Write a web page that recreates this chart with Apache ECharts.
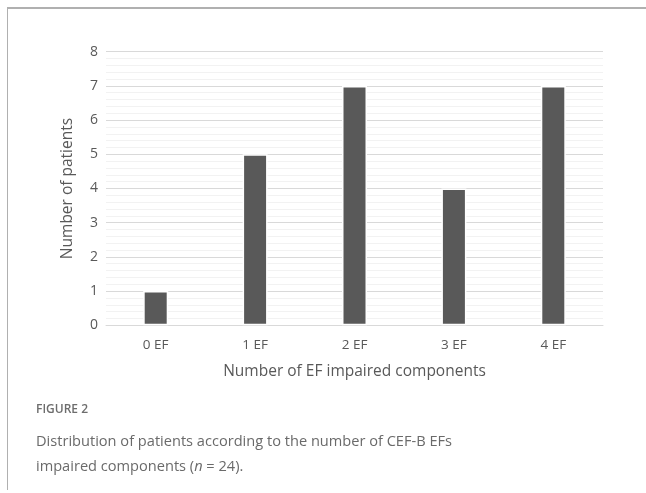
<!DOCTYPE html>
<html>
<head>
<meta charset="utf-8">
<script src="https://cdn.jsdelivr.net/npm/echarts@6/dist/echarts.min.js"></script>
<style>html,body{margin:0;padding:0;background:#fff;}#c{width:646px;height:493px;}</style>
</head>
<body>
<div id="c"></div>
<script>
const categories = ['0 EF', '1 EF', '2 EF', '3 EF', '4 EF'];
const patients = [1, 5, 7, 4, 7];
const yTicks = { min: 0, max: 8, interval: 1 };

const chart = echarts.init(document.getElementById('c'), null, { renderer: 'canvas' });
const font = '"Open Sans", "Noto Sans", sans-serif';
chart.setOption({
  animation: false,
  backgroundColor: '#ffffff',
  grid: { left: 106, right: 43, top: 51.7, bottom: 167.7, containLabel: false },
  xAxis: {
    type: 'category',
    data: categories,
    axisLine: { show: true, lineStyle: { color: '#d9d9d9', width: 1 } },
    axisTick: { show: false },
    axisLabel: { color: '#595959', fontSize: 13.5, fontFamily: font, margin: 13 },
    name: 'Number of EF impaired components',
    nameLocation: 'middle',
    nameGap: 38,
    nameTextStyle: { color: '#595959', fontSize: 15.5, fontFamily: font }
  },
  yAxis: {
    type: 'value',
    min: yTicks.min, max: yTicks.max, interval: yTicks.interval,
    axisLine: { show: false },
    axisTick: { show: false },
    axisLabel: { color: '#595959', fontSize: 14, fontFamily: font, margin: 8 },
    splitLine: { show: true, lineStyle: { color: '#d9d9d9', width: 1 } },
    minorTick: { show: false, splitNumber: 5 },
    minorSplitLine: { show: true, lineStyle: { color: '#f2f2f2', width: 1 } },
    name: 'Number of patients',
    nameLocation: 'middle',
    nameGap: 30,
    nameTextStyle: { color: '#595959', fontSize: 15.5, fontFamily: font }
  },
  series: [{
    type: 'bar',
    data: patients,
    barWidth: 25,
    itemStyle: { color: '#595959', borderColor: '#ffffff', borderWidth: 1.5 }
  }],
  graphic: [
    { type: 'line', shape: { x1: 7, y1: 8, x2: 646, y2: 8 }, style: { stroke: '#b0b0b0', lineWidth: 2 } },
    { type: 'line', shape: { x1: 7.5, y1: 8, x2: 7.5, y2: 490 }, style: { stroke: '#b0b0b0', lineWidth: 1 } },
    { type: 'text', left: 36, top: 404, style: { text: 'FIGURE 2', fill: '#6d6d6d', font: '600 12px ' + font } },
    { type: 'text', left: 36, top: 434, style: {
        text: 'Distribution of patients according to the number of CEF-B EFs',
        fill: '#6a6a6a', font: '14.6px ' + font } },
    { type: 'text', left: 36, top: 459, style: {
        text: 'impaired components ({i|n} = 24).',
        fill: '#6a6a6a', font: '14.6px ' + font,
        rich: { i: { fontStyle: 'italic', fontSize: 14.6, fontFamily: font, fill: '#6a6a6a' } } } }
  ]
});
</script>
</body>
</html>
